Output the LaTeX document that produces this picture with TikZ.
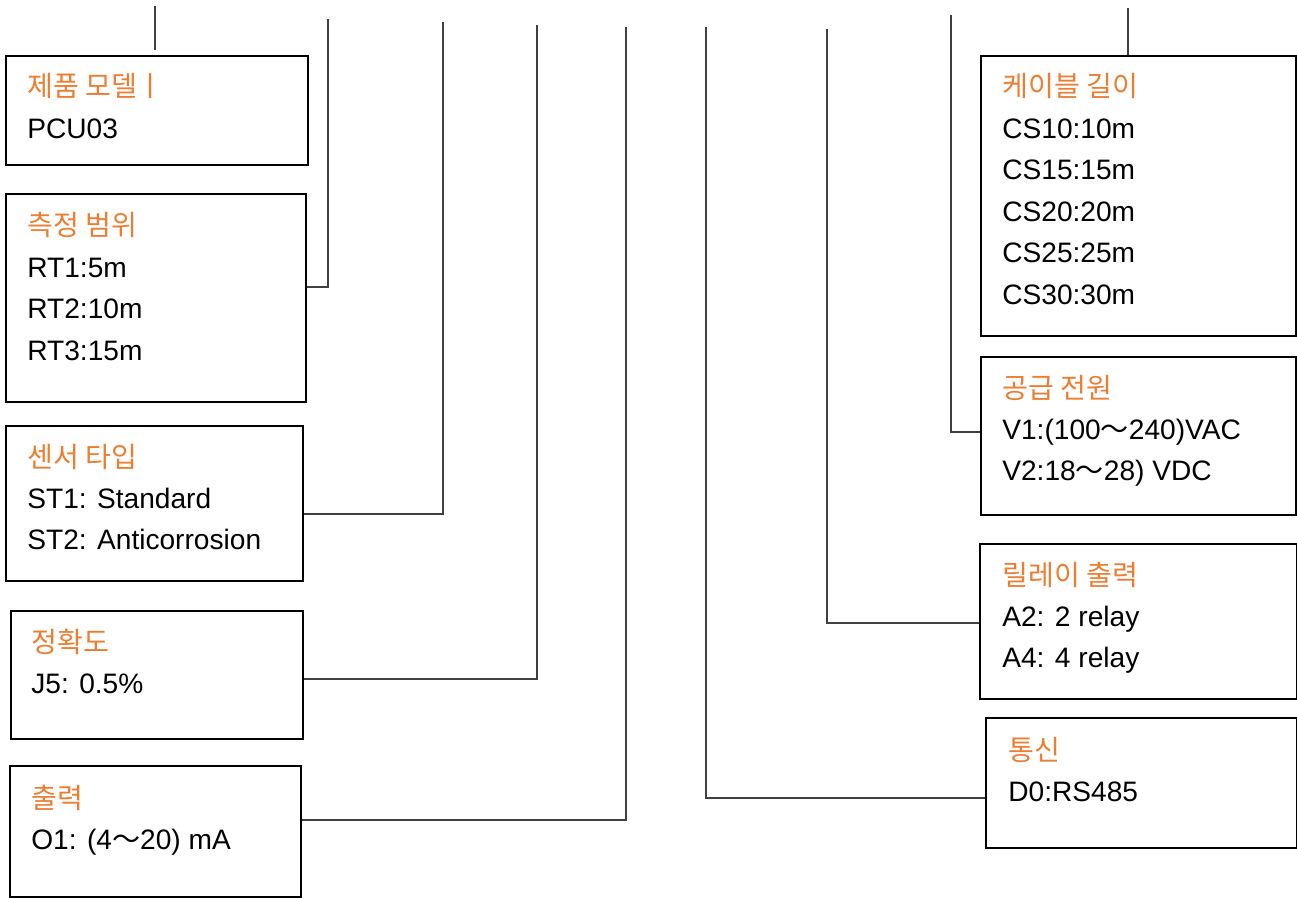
\documentclass[tikz,border=0pt]{standalone}
\usepackage{fontspec}
\setmainfont{Liberation Sans}
\newfontfamily\ko{Noto Sans CJK KR}
\usepackage{xcolor}
\usepackage{tikz}
\usetikzlibrary{calc}
\definecolor{titleorange}{RGB}{237,125,49}
\newcommand{\boxtitle}[1]{\textcolor{titleorange}{\ko #1}}
\newcommand{\wave}{{\ko ～}}
\tikzset
{
  codebox/.style={draw=black,line width=1pt,rectangle,anchor=north west,inner sep=0pt},
  codetext/.style={anchor=base west,inner sep=0pt,font=\fontsize{16}{23.6}\selectfont},
  lead/.style={draw=black!75,line width=0.6pt}
}

\begin{document}
\begin{tikzpicture}[x=0.02cm,y=-0.02cm]

    % Fix the page to the reference size
    \useasboundingbox (0,0) rectangle (1297,898);

    % Left column of boxes
    \node[codebox, minimum width=302*0.02cm, minimum height=109*0.02cm] (model) at (5,55) {};
    \node[codebox, minimum width=300*0.02cm, minimum height=208*0.02cm] (range) at (5,193) {};
    \node[codebox, minimum width=297*0.02cm, minimum height=155*0.02cm] (sensor) at (5,425) {};
    \node[codebox, minimum width=292*0.02cm, minimum height=128*0.02cm] (accuracy) at (10,610) {};
    \node[codebox, minimum width=291*0.02cm, minimum height=131*0.02cm] (output) at (9,765) {};

    % Right column of boxes
    \node[codebox, minimum width=315*0.02cm, minimum height=280*0.02cm] (cable) at (980,55) {};
    \node[codebox, minimum width=315*0.02cm, minimum height=158*0.02cm] (power) at (980,356) {};
    \node[codebox, minimum width=317*0.02cm, minimum height=155*0.02cm] (relay) at (979,543) {};
    \node[codebox, minimum width=311*0.02cm, minimum height=130*0.02cm] (comm) at (985,717) {};

    % Texts in the boxes
    \node[codetext] (modeltxt) at (27,97) {\begin{tabular}[t]{@{}l@{}}\boxtitle{제품 모델ㅣ}\\PCU03\end{tabular}};
    \node[codetext] (rangetxt) at (27,236) {\begin{tabular}[t]{@{}l@{}}\boxtitle{측정 범위}\\RT1:5m\\RT2:10m\\RT3:15m\end{tabular}};
    \node[codetext] (sensortxt) at (27,467) {\begin{tabular}[t]{@{}l@{}}\boxtitle{센서 타입}\\ST1: Standard\\ST2: Anticorrosion\end{tabular}};
    \node[codetext] (accuracytxt) at (31,652) {\begin{tabular}[t]{@{}l@{}}\boxtitle{정확도}\\J5: 0.5\%\end{tabular}};
    \node[codetext] (outputtxt) at (31,808) {\begin{tabular}[t]{@{}l@{}}\boxtitle{출력}\\O1: (4\wave20) mA\end{tabular}};
    \node[codetext] (cabletxt) at (1002,97) {\begin{tabular}[t]{@{}l@{}}\boxtitle{케이블 길이}\\CS10:10m\\CS15:15m\\CS20:20m\\CS25:25m\\CS30:30m\end{tabular}};
    \node[codetext] (powertxt) at (1002,398) {\begin{tabular}[t]{@{}l@{}}\boxtitle{공급 전원}\\V1:(100\wave240)VAC\\V2:18\wave28) VDC\end{tabular}};
    \node[codetext] (relaytxt) at (1002,585) {\begin{tabular}[t]{@{}l@{}}\boxtitle{릴레이 출력}\\A2: 2 relay\\A4: 4 relay\end{tabular}};
    \node[codetext] (commtxt) at (1008,760) {\begin{tabular}[t]{@{}l@{}}\boxtitle{통신}\\D0:RS485\end{tabular}};

    % Free ends and corners of the leads
    \coordinate (modeltop) at (155,6);
    \coordinate (rangetop) at (328,19);   \coordinate (rangejoin) at (328,287);
    \coordinate (sensortop) at (443,22);  \coordinate (sensorjoin) at (443,514);
    \coordinate (accuracytop) at (537,25); \coordinate (accuracyjoin) at (537,679);
    \coordinate (outputtop) at (626,27);  \coordinate (outputjoin) at (626,820);
    \coordinate (commtop) at (706,27);    \coordinate (commjoin) at (706,798);
    \coordinate (relaytop) at (827,29);   \coordinate (relayjoin) at (827,623);
    \coordinate (powertop) at (951,15);   \coordinate (powerjoin) at (951,432);
    \coordinate (cabletop) at (1128,8);

    % Leads to the left boxes
    \draw[lead] (modeltop |- model.north) ++(0,-5) -- (modeltop);
    \draw[lead] (range.east |- rangejoin) -- (rangejoin) -- (rangetop);
    \draw[lead] (sensor.east |- sensorjoin) -- (sensorjoin) -- (sensortop);
    \draw[lead] (accuracy.east |- accuracyjoin) -- (accuracyjoin) -- (accuracytop);
    \draw[lead] (output.east |- outputjoin) -- (outputjoin) -- (outputtop);

    % Leads to the right boxes
    \draw[lead] (comm.west |- commjoin) -- (commjoin) -- (commtop);
    \draw[lead] (relay.west |- relayjoin) -- (relayjoin) -- (relaytop);
    \draw[lead] (power.west |- powerjoin) -- (powerjoin) -- (powertop);
    \draw[lead] (cabletop |- cable.north) -- (cabletop);

\end{tikzpicture}
\end{document}
